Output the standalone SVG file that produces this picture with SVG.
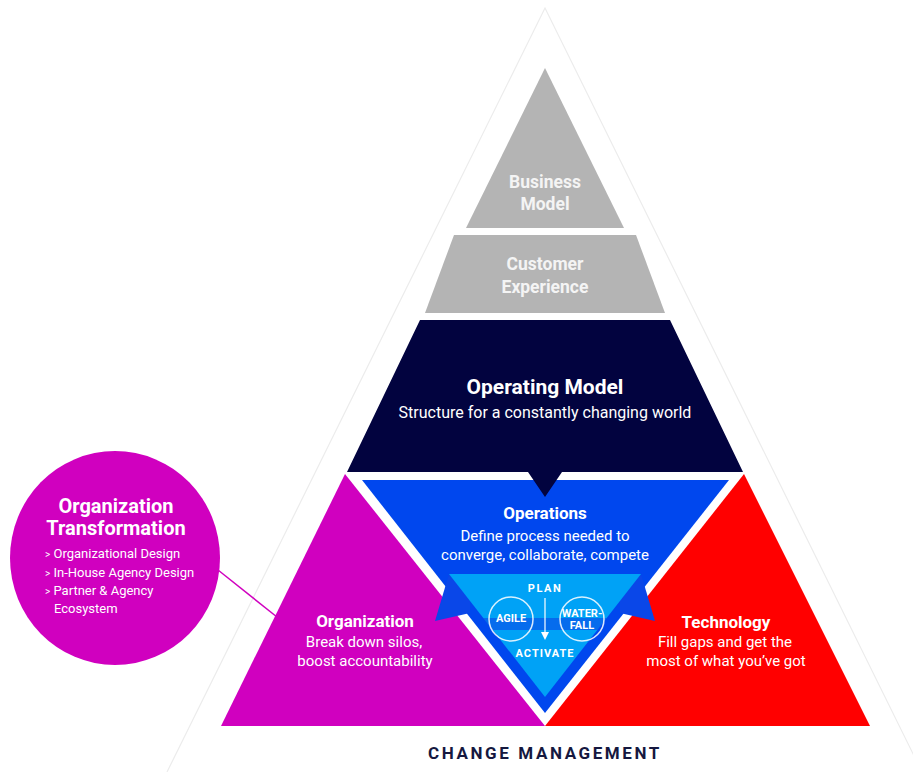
<svg xmlns="http://www.w3.org/2000/svg" width="913" height="772" viewBox="0 0 913 772">
  <defs>
    <marker id="arrowHead" viewBox="0 0 8 8" refX="1" refY="4" markerWidth="8" markerHeight="8" markerUnits="userSpaceOnUse" orient="auto">
      <polygon points="0,0 8,4 0,8" fill="#ffffff"/>
    </marker>
    <style>
      text { font-family: Roboto, "Liberation Sans", Arial, sans-serif; text-anchor: middle; }
      .title { font-weight: 700; fill: #ffffff; }
      .sub { font-weight: 400; fill: #ffffff; }
      .gray-label { font-weight: 700; fill: #f4f4f4; font-size: 17.5px; }
      .caps { font-weight: 700; fill: #ffffff; font-size: 11px; }
      .bullet { font-weight: 400; fill: #ffffff; font-size: 13px; text-anchor: start; }
      .ring { fill: none; stroke: #ffffff; stroke-width: 1.5; opacity: 0.85; }
    </style>
  </defs>

  <rect x="0" y="0" width="913" height="772" fill="#ffffff"/>

  <!-- faint outer frame of the pyramid -->
  <polyline points="167,772 545,8 922,772" fill="none" stroke="#ececec" stroke-width="1.2"/>

  <g id="business-model">
    <polygon points="545,68 624,228 466,228" fill="#b4b4b4"/>
    <text class="gray-label" x="545" y="188">Business</text>
    <text class="gray-label" x="545" y="210">Model</text>
  </g>

  <g id="customer-experience">
    <polygon points="454,235 636,235 665,313 425,313" fill="#b4b4b4"/>
    <text class="gray-label" x="545" y="270">Customer</text>
    <text class="gray-label" x="545" y="293">Experience</text>
  </g>

  <g id="organization">
    <polygon points="345,474 545,726 221,726" fill="#d000bf"/>
    <text class="title" x="365" y="627" font-size="17px">Organization</text>
    <text class="sub" x="364" y="647" font-size="15px">Break down silos,</text>
    <text class="sub" x="365" y="666" font-size="15px">boost accountability</text>
  </g>

  <g id="technology">
    <polygon points="744,474 870,726 545,726" fill="#ff0000"/>
    <text class="title" x="726" y="628" font-size="17px">Technology</text>
    <text class="sub" x="725" y="647" font-size="15px">Fill gaps and get the</text>
    <text class="sub" x="726" y="666" font-size="15px">most of what you’ve got</text>
  </g>

  <g id="operations">
    <polygon points="362,480 729,480 545,713" fill="#0047ee"/>
    <text class="title" x="545" y="519" font-size="17px">Operations</text>
    <text class="sub" x="545" y="541" font-size="15px">Define process needed to</text>
    <text class="sub" x="545" y="560" font-size="15px">converge, collaborate, compete</text>
  </g>

  <g id="operating-model">
    <polygon points="420,320 670,320 743,472 562,472 545,497 528,472 347,472" fill="#02033f"/>
    <text class="title" x="545" y="394" font-size="21px">Operating Model</text>
    <text class="sub" x="545" y="418" font-size="16px" fill="#e8e8f0">Structure for a constantly changing world</text>
  </g>

  <g id="plan-activate">
    <!-- ribbon ends behind the inner triangle -->
    <polygon points="449,574 435,621 470,613 470,574" fill="#0a47e8"/>
    <polygon points="641,574 655,621 620,613 620,574" fill="#0a47e8"/>
    <polygon points="449,574 641,574 545,697" fill="#00a2f6"/>
    <!-- ribbon band across the inner triangle -->
    <polygon points="483,618 607,618 598,630 492,630" fill="#0a47e8" opacity="0.6"/>
    <circle class="ring" cx="511" cy="619" r="22"/>
    <circle class="ring" cx="582" cy="619" r="22"/>
    <text class="caps" x="545" y="592" letter-spacing="1.5">PLAN</text>
    <text class="caps" x="545" y="657" letter-spacing="1">ACTIVATE</text>
    <text class="caps" x="511" y="622" font-size="10px">AGILE</text>
    <text class="caps" x="582" y="617" font-size="10px">WATER-</text>
    <text class="caps" x="582" y="629" font-size="10px">FALL</text>
  </g>

  <g id="organization-transformation">
    <ellipse cx="115" cy="558" rx="105" ry="107" fill="#d000bf"/>
    <text class="title" x="116" y="513" font-size="20px">Organization</text>
    <text class="title" x="116" y="535" font-size="20px">Transformation</text>
    <text class="bullet" x="45" y="558"><tspan font-size="10px">&gt;</tspan> Organizational Design</text>
    <text class="bullet" x="45" y="577"><tspan font-size="10px">&gt;</tspan> In-House Agency Design</text>
    <text class="bullet" x="45" y="595"><tspan font-size="10px">&gt;</tspan> Partner &amp; Agency</text>
    <text class="bullet" x="54" y="613">Ecosystem</text>
  </g>

  <g id="connectors">
    <line x1="218" y1="570" x2="277" y2="617" stroke="#d000bf" stroke-width="1.5"/>
    <line x1="545" y1="598" x2="545" y2="633" stroke="#ffffff" stroke-width="1.2" marker-end="url(#arrowHead)"/>
  </g>

  <g id="change-management">
    <text x="545" y="759" font-size="17px" font-weight="700" fill="#15183f" letter-spacing="2.6">CHANGE MANAGEMENT</text>
  </g>
</svg>
